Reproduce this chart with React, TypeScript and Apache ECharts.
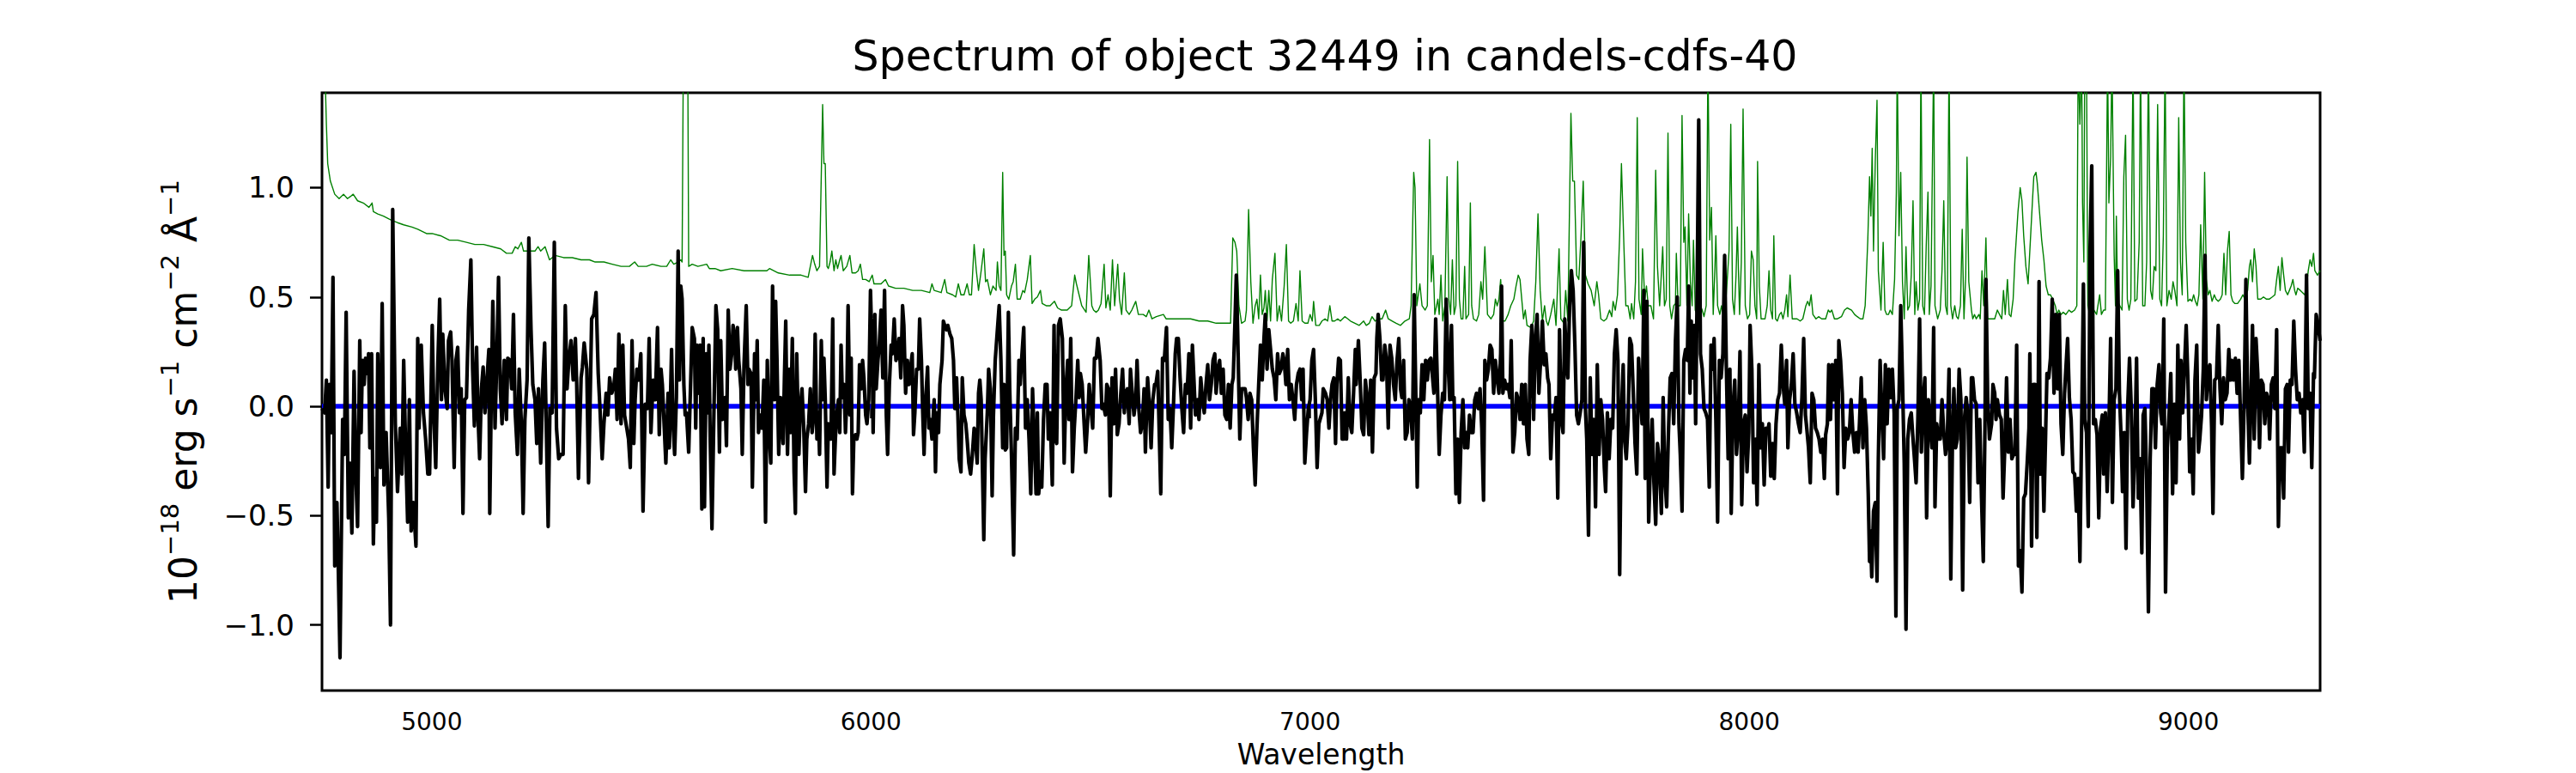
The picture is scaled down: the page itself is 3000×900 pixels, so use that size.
import React, { useEffect, useRef } from "react";
import * as echarts from "echarts";

const titleText = "Spectrum of object 32449 in candels-cdfs-40";
const xAxisLabel = "Wavelength";
const xTicks = [5000, 6000, 7000, 8000, 9000];
const yTicks = [-1.0, -0.5, 0.0, 0.5, 1.0];
const xRange = [4750, 9300];
const yRange = [-1.3, 1.434];

// model (blue) — flat at zero
const modelLine: [number, number][] = [[4750, 0], [9300, 0]];

// observed flux (black)
const fluxSpectrum: [number, number][] = [
[4750,-0.01],[4756,-0.03],[4760,0.12],[4764,-0.37],[4767,0.10],[4771,-0.12],[4775,0.59],[4779,-0.73],[4784,-0.44],[4787,-0.73],[4791,-1.15],[4797,-0.06],[4801,-0.22],[4805,0.43],[4810,-0.51],[4814,-0.26],[4818,-0.58],[4823,0.16],[4827,-0.31],[4831,-0.55],[4836,0.30],[4839,-0.12],[4842,0.21],[4846,0.10],[4849,0.22],[4853,0.15],[4856,0.24],[4859,-0.19],[4863,0.24],[4867,-0.63],[4870,-0.33],[4874,-0.53],[4877,0.24],[4880,-0.22],[4883,-0.28],[4887,0.47],[4891,-0.36],[4896,-0.12],[4902,-0.51],[4906,-1.00],[4911,0.90],[4917,-0.08],[4922,-0.39],[4928,-0.10],[4932,-0.31],[4936,0.21],[4940,-0.15],[4945,-0.53],[4949,0.03],[4953,-0.57],[4958,-0.44],[4964,-0.64],[4968,0.31],[4971,-0.10],[4976,0.28],[4981,-0.03],[4986,-0.15],[4991,-0.31],[4995,-0.31],[5001,0.37],[5005,-0.06],[5009,-0.28],[5014,0.21],[5018,0.49],[5022,0.03],[5025,0.33],[5030,0.08],[5035,-0.01],[5038,0.30],[5043,0.34],[5046,0.21],[5051,-0.28],[5055,0.21],[5059,0.27],[5063,-0.03],[5067,0.08],[5071,-0.49],[5075,0.03],[5079,0.04],[5084,0.44],[5089,0.67],[5093,0.17],[5097,-0.09],[5102,0.27],[5105,-0.03],[5109,-0.24],[5113,0.08],[5117,0.18],[5121,-0.03],[5125,0.10],[5130,0.26],[5132,-0.49],[5136,0.13],[5139,0.48],[5144,-0.10],[5148,0.21],[5152,0.59],[5156,0.08],[5160,-0.08],[5165,0.21],[5170,-0.06],[5173,0.22],[5178,0.21],[5182,0.08],[5186,0.42],[5190,-0.03],[5195,-0.22],[5199,0.17],[5204,-0.08],[5208,-0.49],[5212,-0.06],[5217,0.12],[5221,0.77],[5226,0.35],[5230,0.10],[5235,0.03],[5239,-0.17],[5243,0.08],[5248,-0.26],[5253,0.12],[5257,0.29],[5261,-0.12],[5265,-0.55],[5269,-0.01],[5274,-0.03],[5279,0.75],[5284,-0.10],[5289,-0.24],[5294,-0.22],[5299,-0.22],[5304,0.46],[5308,0.08],[5312,0.21],[5317,0.30],[5322,0.12],[5327,0.31],[5330,0.10],[5334,-0.33],[5340,0.13],[5343,0.18],[5347,0.29],[5353,0.17],[5357,-0.35],[5360,-0.04],[5364,0.40],[5369,0.42],[5374,0.52],[5379,0.15],[5383,-0.01],[5388,-0.24],[5392,-0.08],[5397,0.06],[5401,-0.04],[5405,0.13],[5410,0.06],[5415,0.10],[5418,0.17],[5422,-0.06],[5426,0.33],[5431,-0.08],[5435,0.28],[5439,-0.04],[5444,-0.10],[5448,-0.15],[5452,-0.28],[5456,0.30],[5460,-0.17],[5463,0.03],[5467,0.17],[5471,0.12],[5476,0.24],[5481,-0.48],[5486,0.01],[5491,-0.01],[5495,0.31],[5499,-0.12],[5504,0.12],[5509,0.03],[5514,0.36],
[5518,-0.13],[5522,0.17],[5525,0.10],[5529,-0.08],[5533,-0.26],[5538,0.06],[5541,-0.19],[5546,0.26],[5549,-0.06],[5553,-0.22],[5557,0.04],[5561,0.71],[5564,0.12],[5567,0.55],[5570,0.49],[5574,0.10],[5577,-0.04],[5580,-0.03],[5585,-0.21],[5589,0.08],[5593,0.36],[5598,0.31],[5601,-0.10],[5604,0.28],[5608,0.06],[5611,0.28],[5615,-0.47],[5618,0.31],[5621,-0.46],[5625,0.24],[5628,-0.03],[5631,0.28],[5634,-0.15],[5638,-0.56],[5642,-0.08],[5647,0.46],[5651,0.35],[5655,-0.21],[5658,0.30],[5662,-0.06],[5665,-0.01],[5668,0.04],[5671,-0.18],[5675,0.44],[5679,0.17],[5683,0.24],[5686,0.37],[5690,0.31],[5692,0.17],[5696,0.36],[5699,0.21],[5704,0.08],[5707,-0.22],[5711,0.19],[5716,0.46],[5720,0.10],[5722,0.17],[5727,0.15],[5730,-0.37],[5735,0.24],[5738,0.03],[5741,0.30],[5744,-0.12],[5748,-0.04],[5752,-0.10],[5756,0.12],[5760,-0.53],[5764,0.21],[5768,-0.12],[5772,-0.26],[5776,0.55],[5780,0.03],[5783,0.48],[5786,0.22],[5790,-0.22],[5794,0.04],[5797,-0.06],[5800,-0.17],[5803,0.13],[5806,0.39],[5810,-0.22],[5814,0.17],[5817,-0.12],[5821,0.31],[5825,-0.30],[5828,-0.49],[5831,0.24],[5836,-0.22],[5839,-0.01],[5843,0.08],[5847,-0.10],[5851,-0.39],[5854,-0.15],[5858,-0.08],[5862,0.08],[5866,-0.12],[5870,-0.04],[5873,0.33],[5877,-0.15],[5880,-0.03],[5883,-0.22],[5887,0.30],[5890,0.03],[5893,0.22],[5896,0.03],[5900,-0.37],[5903,-0.08],[5906,-0.15],[5909,-0.15],[5913,0.40],[5916,-0.31],[5919,-0.15],[5922,-0.04],[5926,0.03],[5929,-0.12],[5932,0.28],[5935,0.04],[5939,0.10],[5942,-0.12],[5945,0.03],[5948,0.46],[5952,-0.04],[5955,0.22],[5958,-0.40],[5961,-0.15],[5965,-0.13],[5968,-0.15],[5971,-0.12],[5974,0.19],[5978,0.08],[5981,0.21],[5984,0.13],[5988,-0.04],[5991,-0.08],[5995,0.03],[5999,0.53],[6003,0.22],[6005,-0.12],[6009,0.42],[6012,0.08],[6016,0.21],[6019,0.28],[6023,0.44],[6027,0.13],[6031,0.53],[6035,-0.04],[6038,-0.22],[6042,0.10],[6046,0.28],[6049,0.24],[6053,0.40],[6057,0.21],[6061,0.24],[6064,0.31],[6068,0.13],[6072,0.46],[6075,0.37],[6079,0.06],[6083,0.21],[6087,0.10],[6090,0.17],[6094,0.24],[6097,-0.13],[6100,-0.03],[6104,0.17],[6108,0.17],[6111,0.40],[6115,0.21],[6118,-0.03],[6121,-0.22],[6124,0.01],[6129,0.18],[6132,-0.10],[6135,-0.06],[6139,-0.15],[6144,0.03],[6147,-0.30],[6150,-0.03],[6154,-0.12],[6157,0.10],[6162,0.21],[6165,0.39],[6168,0.37],[6172,0.35],[6175,0.37],[6180,0.33],[6184,0.31],[6188,0.21],[6191,-0.01],[6195,0.13],[6198,-0.04],[6201,-0.24],[6205,-0.30],[6208,0.13],[6212,-0.04],[6216,-0.08],[6219,-0.15],[6223,-0.26],[6227,-0.31],[6231,-0.22],[6235,-0.10],[6238,-0.15],[6242,-0.26],[6245,0.06],[6248,0.12],[6251,0.03],[6257,-0.61],[6260,-0.24],
[6265,-0.03],[6268,0.17],[6272,0.08],[6276,-0.41],[6279,-0.04],[6283,0.21],[6288,0.35],[6292,0.46],[6296,0.21],[6300,-0.19],[6303,0.10],[6306,-0.20],[6309,-0.19],[6313,0.43],[6316,0.08],[6320,-0.22],[6325,-0.68],[6329,-0.10],[6333,-0.15],[6337,0.21],[6340,0.10],[6343,0.21],[6348,0.36],[6352,-0.10],[6356,0.03],[6360,-0.15],[6364,-0.40],[6368,0.08],[6372,-0.15],[6376,-0.40],[6379,-0.03],[6382,-0.40],[6386,-0.30],[6389,-0.37],[6393,-0.06],[6397,0.10],[6401,0.10],[6404,-0.15],[6408,-0.03],[6413,-0.36],[6417,0.37],[6420,-0.15],[6423,-0.17],[6427,0.37],[6431,0.40],[6436,0.31],[6440,-0.26],[6444,0.08],[6448,0.21],[6451,-0.06],[6455,0.31],[6459,-0.30],[6463,-0.10],[6467,0.04],[6471,0.21],[6474,0.04],[6477,0.15],[6481,0.10],[6485,-0.06],[6489,-0.21],[6493,-0.08],[6497,0.10],[6501,-0.01],[6505,-0.10],[6509,0.22],[6513,0.22],[6517,0.31],[6522,0.21],[6526,-0.01],[6529,0.01],[6534,-0.04],[6537,0.10],[6541,0.08],[6545,-0.41],[6549,0.13],[6553,-0.08],[6557,0.17],[6561,-0.13],[6565,-0.08],[6569,0.06],[6573,0.17],[6577,-0.03],[6580,0.06],[6584,0.08],[6588,-0.08],[6591,0.17],[6595,0.06],[6599,-0.04],[6603,0.03],[6606,0.21],[6610,-0.01],[6614,-0.12],[6618,-0.08],[6622,0.08],[6625,-0.21],[6630,0.13],[6634,0.01],[6638,-0.19],[6642,0.03],[6646,0.10],[6649,0.10],[6653,0.16],[6656,-0.08],[6660,-0.40],[6664,0.22],[6668,0.21],[6673,0.36],[6677,-0.06],[6681,-0.01],[6685,-0.19],[6689,0.01],[6693,0.24],[6696,0.31],[6700,0.31],[6704,0.13],[6708,-0.01],[6712,-0.12],[6716,0.10],[6720,0.06],[6724,0.24],[6728,-0.10],[6732,0.28],[6736,0.10],[6739,-0.04],[6743,0.03],[6747,-0.06],[6751,0.13],[6755,0.03],[6759,-0.03],[6763,0.10],[6767,0.19],[6771,0.03],[6775,0.10],[6779,0.21],[6783,0.24],[6786,0.06],[6790,0.17],[6794,0.21],[6798,0.06],[6802,0.17],[6806,-0.04],[6810,-0.06],[6814,0.10],[6818,-0.10],[6822,0.10],[6825,0.13],[6829,0.39],[6832,0.60],[6835,0.35],[6840,-0.15],[6844,0.08],[6848,0.08],[6852,0.08],[6855,0.04],[6859,-0.06],[6863,0.06],[6867,0.03],[6871,-0.19],[6875,-0.36],[6879,-0.10],[6883,0.10],[6887,0.28],[6891,0.12],[6895,0.31],[6898,0.42],[6902,0.17],[6906,0.35],[6910,0.26],[6914,0.17],[6918,0.13],[6922,0.03],[6926,0.24],[6930,0.15],[6934,0.17],[6938,0.24],[6941,0.21],[6945,0.10],[6949,0.26],[6953,0.03],[6957,0.10],[6961,0.03],[6965,-0.06],[6969,0.10],[6973,0.15],[6977,0.17],[6981,0.03],[6984,0.17],[6988,-0.26],[6992,-0.12],[6996,-0.01],[7000,0.03],[7004,0.21],[7008,0.26],[7012,0.03],[7016,-0.28],[7020,-0.08],
[7027,-0.03],[7030,0.08],[7035,0.06],[7039,0.03],[7043,-0.10],[7047,0.04],[7050,0.10],[7054,0.13],[7058,-0.17],[7061,0.10],[7065,0.22],[7069,0.21],[7073,-0.15],[7077,-0.15],[7079,-0.03],[7083,-0.15],[7087,0.13],[7091,-0.08],[7095,-0.12],[7099,0.06],[7103,0.26],[7105,0.10],[7110,0.30],[7114,0.12],[7118,-0.10],[7122,-0.13],[7126,0.12],[7130,0.04],[7134,-0.13],[7138,0.12],[7142,-0.21],[7146,0.13],[7150,0.15],[7152,0.31],[7155,0.42],[7159,0.31],[7163,0.12],[7166,0.12],[7170,0.28],[7174,0.21],[7178,-0.10],[7182,0.28],[7186,0.22],[7190,0.10],[7194,0.03],[7198,0.21],[7202,0.31],[7206,0.08],[7209,0.04],[7213,0.21],[7217,-0.15],[7221,-0.12],[7225,0.03],[7229,-0.01],[7233,-0.15],[7237,0.51],[7241,0.03],[7244,-0.37],[7247,0.03],[7251,-0.03],[7255,0.19],[7259,0.03],[7263,0.21],[7267,0.12],[7271,0.21],[7275,0.22],[7279,0.13],[7282,0.06],[7286,0.40],[7290,0.10],[7294,-0.22],[7298,-0.04],[7302,0.06],[7306,0.03],[7310,0.49],[7314,0.21],[7318,0.03],[7322,0.37],[7325,0.03],[7328,0.04],[7332,-0.40],[7336,-0.15],[7340,-0.44],[7344,-0.12],[7348,0.03],[7352,-0.19],[7355,-0.12],[7359,-0.19],[7363,-0.04],[7367,-0.12],[7371,-0.12],[7375,0.03],[7379,0.06],[7383,-0.01],[7387,0.08],[7391,-0.10],[7395,-0.43],[7398,0.21],[7402,0.12],[7406,0.17],[7410,0.28],[7414,0.26],[7418,0.06],[7422,0.21],[7426,0.13],[7430,0.06],[7434,0.24],[7436,0.55],[7439,0.06],[7443,0.12],[7447,0.08],[7451,0.10],[7455,0.04],[7458,0.30],[7462,-0.21],[7466,-0.12],[7470,0.06],[7474,0.03],[7478,-0.06],[7482,0.10],[7486,-0.08],[7490,0.10],[7494,-0.15],[7498,-0.22],[7501,0.21],[7505,0.37],[7509,-0.06],[7513,0.31],[7517,0.42],[7521,0.06],[7525,0.21],[7529,0.39],[7533,0.19],[7537,0.24],[7541,0.13],[7544,0.10],[7548,-0.24],[7552,-0.04],[7556,-0.06],[7560,0.04],[7564,-0.42],[7568,0.35],[7572,-0.06],[7576,-0.12],[7580,0.40],[7584,0.19],[7587,0.13],[7591,0.46],[7595,0.62],[7599,0.53],[7603,0.28],[7607,-0.04],[7611,-0.08],[7615,-0.03],[7619,0.03],[7623,0.75],[7627,-0.01],[7630,-0.15],[7634,-0.59],[7638,0.13],[7642,-0.22],[7646,-0.06],[7650,-0.46],[7654,0.19],[7658,-0.22],[7662,0.03],[7666,-0.06],[7670,-0.28],[7673,-0.39],[7677,-0.03],[7681,-0.24],[7685,-0.06],[7689,-0.10],[7693,0.24],[7697,0.35],[7701,0.21],[7705,-0.77],[7709,-0.03],[7713,0.19],[7716,-0.15],[7720,-0.24],[7724,-0.08],[7728,0.31],[7732,0.28],[7736,0.06],[7740,-0.17],[7744,-0.31],[7748,0.22],[7752,0.06],[7756,-0.08],[7760,0.53],[7763,-0.33],[7767,0.48],[7771,-0.53],[7775,-0.26],[7779,-0.06],[7783,-0.35],[7787,-0.54],[7791,-0.17],[7795,-0.24],
[7800,-0.49],[7804,0.04],[7808,-0.33],[7812,-0.46],[7816,-0.12],[7820,0.13],[7824,0.15],[7828,-0.08],[7832,0.30],[7836,0.50],[7840,-0.08],[7843,-0.22],[7847,-0.48],[7851,0.21],[7855,0.26],[7859,0.21],[7862,0.55],[7865,0.06],[7868,0.39],[7871,0.13],[7875,0.37],[7878,-0.08],[7881,0.46],[7885,1.31],[7889,0.24],[7893,0.17],[7897,-0.01],[7901,-0.03],[7905,-0.06],[7909,-0.37],[7913,0.28],[7916,0.17],[7920,0.31],[7924,-0.06],[7928,-0.53],[7932,0.21],[7936,0.13],[7940,0.24],[7944,0.69],[7948,0.17],[7952,-0.24],[7956,0.17],[7959,-0.49],[7963,-0.01],[7967,0.12],[7971,-0.22],[7975,-0.10],[7979,0.25],[7983,-0.45],[7987,-0.08],[7991,-0.04],[7995,-0.30],[7999,-0.12],[8002,0.37],[8006,0.17],[8010,-0.35],[8014,-0.15],[8018,-0.45],[8022,0.19],[8026,-0.19],[8030,-0.08],[8034,-0.36],[8038,-0.10],[8042,-0.12],[8045,-0.08],[8049,-0.32],[8053,-0.17],[8057,-0.33],[8061,-0.08],[8065,0.03],[8069,0.06],[8073,0.28],[8077,0.10],[8081,0.01],[8085,0.21],[8088,-0.19],[8092,0.03],[8096,0.10],[8100,0.24],[8104,0.01],[8108,-0.03],[8112,-0.08],[8116,-0.12],[8120,0.04],[8124,0.31],[8128,-0.04],[8131,-0.10],[8135,-0.19],[8139,-0.35],[8143,0.06],[8147,0.03],[8151,-0.10],[8155,-0.12],[8159,-0.15],[8163,-0.21],[8167,-0.15],[8171,-0.33],[8174,-0.13],[8178,-0.08],[8181,0.19],[8185,-0.06],[8189,0.19],[8193,0.03],[8197,0.21],[8201,-0.40],[8204,0.30],[8208,0.21],[8212,0.06],[8216,-0.28],[8220,-0.10],[8224,-0.15],[8228,-0.12],[8232,0.03],[8236,-0.12],[8240,-0.21],[8244,-0.12],[8248,-0.21],[8251,-0.08],[8255,0.13],[8259,-0.19],[8263,0.03],[8267,-0.10],[8271,-0.40],[8274,-0.71],[8276,-0.57],[8279,-0.78],[8283,-0.48],[8287,-0.44],[8291,-0.80],[8294,-0.24],[8298,0.21],[8302,-0.03],[8306,-0.24],[8310,0.19],[8314,-0.08],[8318,0.17],[8322,0.04],[8326,0.17],[8330,-0.03],[8334,-0.96],[8337,-0.01],[8341,0.03],[8345,0.46],[8349,0.12],[8353,-0.26],[8357,-1.02],[8361,-0.15],[8365,-0.06],[8369,-0.03],[8373,-0.15],[8377,-0.26],[8380,-0.35],[8384,-0.06],[8388,0.40],[8392,-0.21],[8396,0.03],[8400,0.13],[8404,-0.51],[8408,0.03],[8412,-0.08],[8416,-0.19],[8420,0.36],[8423,-0.46],[8427,-0.08],[8431,-0.15],[8435,-0.15],[8439,0.03],[8443,-0.12],[8447,-0.22],[8451,-0.15],[8455,0.17],[8459,-0.79],[8463,-0.12],[8466,0.08],[8470,-0.19],[8474,-0.15],[8478,0.17],[8482,0.03],[8486,-0.84],[8490,-0.06],[8494,0.04],[8498,-0.04],[8502,-0.44],[8506,0.13],[8509,0.13],[8513,0.03],[8517,0.01],[8521,-0.35],[8525,-0.06],[8529,-0.42],[8533,-0.71],[8537,-0.06],[8539,0.58],[8543,0.04],[8547,-0.15],
[8552,-0.08],[8555,0.10],[8559,0.06],[8562,-0.06],[8565,0.03],[8570,-0.04],[8574,-0.06],[8578,-0.42],[8582,-0.19],[8586,0.13],[8590,-0.21],[8594,-0.06],[8598,-0.24],[8602,-0.22],[8605,-0.22],[8609,0.28],[8613,-0.73],[8617,-0.66],[8621,-0.85],[8625,-0.42],[8629,-0.40],[8633,-0.26],[8637,-0.10],[8639,0.24],[8643,-0.64],[8647,0.10],[8651,0.10],[8655,-0.60],[8658,0.03],[8660,0.57],[8663,-0.31],[8667,-0.10],[8671,-0.48],[8675,-0.12],[8678,0.15],[8682,0.13],[8686,0.22],[8690,0.49],[8694,0.06],[8698,0.42],[8702,0.08],[8706,0.42],[8710,-0.08],[8714,-0.22],[8718,0.06],[8721,0.17],[8725,0.31],[8729,0.04],[8733,-0.06],[8737,-0.30],[8741,-0.31],[8745,-0.48],[8749,-0.33],[8753,-0.71],[8757,-0.08],[8761,0.56],[8764,-0.06],[8768,-0.12],[8772,-0.55],[8776,0.71],[8780,1.10],[8784,-0.08],[8788,-0.06],[8792,-0.13],[8796,-0.51],[8800,-0.10],[8804,-0.04],[8807,-0.31],[8811,-0.03],[8815,-0.39],[8819,-0.10],[8823,0.31],[8827,-0.44],[8831,0.03],[8835,0.08],[8839,0.62],[8843,0.06],[8847,-0.15],[8850,-0.39],[8854,-0.12],[8858,-0.65],[8862,0.01],[8866,0.22],[8870,-0.01],[8874,-0.46],[8878,-0.21],[8882,0.22],[8886,-0.42],[8890,-0.24],[8894,-0.67],[8897,-0.04],[8901,-0.01],[8905,-0.33],[8909,-0.94],[8913,-0.24],[8917,0.08],[8921,0.08],[8925,-0.19],[8929,0.10],[8933,0.19],[8937,-0.03],[8940,-0.08],[8944,0.40],[8948,-0.85],[8952,-0.19],[8956,-0.04],[8960,0.15],[8964,-0.40],[8968,0.01],[8972,-0.35],[8976,0.28],[8980,-0.15],[8983,0.21],[8987,-0.03],[8991,0.17],[8995,0.37],[8999,0.12],[9003,-0.30],[9007,-0.15],[9011,-0.40],[9015,0.12],[9019,0.28],[9023,-0.21],[9026,-0.15],[9030,-0.04],[9034,0.17],[9038,0.69],[9041,0.03],[9045,0.15],[9049,0.19],[9053,-0.10],[9056,-0.49],[9060,0.12],[9064,0.13],[9068,0.37],[9072,0.08],[9076,-0.08],[9080,0.13],[9084,0.03],[9088,0.06],[9092,0.26],[9096,0.12],[9099,0.21],[9103,0.12],[9107,0.22],[9111,0.06],[9115,0.21],[9119,-0.06],[9123,-0.33],[9127,0.01],[9131,0.58],[9135,0.03],[9139,-0.26],[9142,-0.01],[9146,0.37],[9150,-0.15],[9154,0.31],[9158,0.15],[9162,-0.19],[9166,0.12],[9170,0.10],[9174,-0.08],[9178,0.06],[9182,0.03],[9185,-0.15],[9189,0.10],[9193,0.13],[9197,-0.01],[9201,0.35],[9205,-0.55],[9209,-0.19],[9213,-0.19],[9217,-0.42],[9221,0.08],[9225,0.10],[9228,-0.21],[9232,0.12],[9236,0.10],[9240,0.39],[9244,0.17],[9248,0.03],[9252,0.06],[9256,-0.03],[9260,0.03],[9264,-0.21],[9269,0.60],[9273,-0.01],[9277,0.06],[9281,-0.28],[9285,0.15],[9287,0.13],[9291,0.42],[9294,0.39],[9300,0.30],
];

// noise / sky spectrum (green)
const noiseSpectrum: [number, number][] = [
[4750,1.9],[4756,1.6],[4760,1.29],[4763,1.11],[4769,1.03],[4779,0.97],[4789,0.95],[4799,0.97],[4808,0.95],[4815,0.96],[4821,0.97],[4831,0.94],[4844,0.93],[4857,0.91],[4864,0.93],[4867,0.89],[4877,0.88],[4890,0.87],[4909,0.85],[4922,0.84],[4936,0.83],[4955,0.82],[4968,0.81],[4988,0.79],[5001,0.79],[5020,0.78],[5040,0.76],[5059,0.76],[5079,0.75],[5098,0.74],[5118,0.74],[5138,0.73],[5157,0.72],[5170,0.70],[5183,0.70],[5190,0.73],[5196,0.72],[5204,0.75],[5209,0.71],[5222,0.71],[5235,0.71],[5242,0.73],[5248,0.71],[5258,0.73],[5268,0.67],[5281,0.69],[5300,0.68],[5320,0.68],[5340,0.67],[5359,0.67],[5372,0.66],[5392,0.66],[5411,0.65],[5431,0.64],[5450,0.64],[5462,0.66],[5470,0.64],[5489,0.64],
[5502,0.65],[5522,0.64],[5535,0.64],[5544,0.67],[5551,0.65],[5561,0.66],[5567,0.67],[5570,0.66],[5574,2.0],[5582,2.0],[5585,0.64],[5593,0.65],[5606,0.64],[5626,0.65],[5632,0.63],[5645,0.63],[5658,0.62],[5684,0.63],[5711,0.62],[5737,0.62],[5763,0.62],[5769,0.63],[5789,0.61],[5815,0.60],[5841,0.60],[5857,0.59],[5862,0.64],[5867,0.69],[5872,0.65],[5877,0.62],[5883,0.64],[5890,1.38],[5893,1.11],[5896,1.11],[5900,0.64],[5903,0.63],[5907,0.66],[5911,0.71],[5916,0.62],[5920,0.67],[5924,0.63],[5929,0.67],[5932,0.69],[5937,0.62],[5945,0.64],[5952,0.69],[5957,0.61],[5965,0.61],[5971,0.62],[5976,0.65],[5981,0.58],[5988,0.58],[5996,0.57],[6003,0.60],[6007,0.56],[6023,0.56],[6033,0.58],[6040,0.55],[6056,0.54],[6075,0.54],[6095,0.53],[6115,0.53],[6134,0.52],[6139,0.56],[6144,0.53],[6160,0.52],[6168,0.58],[6173,0.52],[6186,0.51],[6193,0.50],[6199,0.56],[6205,0.51],[6212,0.51],[6219,0.56],[6224,0.51],[6229,0.51],[6235,0.74],[6240,0.62],[6245,0.53],[6251,0.62],[6257,0.72],[6261,0.57],
[6265,0.58],[6272,0.51],[6278,0.55],[6285,0.53],[6288,0.66],[6292,0.55],[6296,0.53],[6300,1.07],[6303,0.69],[6306,0.71],[6309,0.51],[6314,0.49],[6320,0.55],[6324,0.57],[6329,0.65],[6333,0.49],[6340,0.49],[6346,0.53],[6350,0.52],[6356,0.58],[6363,0.69],[6367,0.47],[6373,0.49],[6379,0.50],[6386,0.53],[6390,0.47],[6399,0.46],[6408,0.46],[6418,0.48],[6425,0.45],[6434,0.44],[6447,0.44],[6457,0.46],[6464,0.60],[6468,0.56],[6474,0.51],[6480,0.46],[6490,0.43],[6496,0.69],[6503,0.46],[6507,0.44],[6513,0.43],[6518,0.44],[6524,0.47],[6531,0.65],[6535,0.45],[6540,0.51],[6545,0.44],[6550,0.67],[6555,0.46],[6562,0.65],[6566,0.49],[6571,0.42],[6577,0.61],[6581,0.44],[6588,0.42],[6594,0.44],[6603,0.48],[6609,0.42],[6620,0.42],[6627,0.41],[6633,0.44],[6640,0.40],[6650,0.41],[6666,0.42],[6672,0.40],[6689,0.40],[6708,0.40],[6728,0.40],[6747,0.39],[6767,0.39],[6786,0.38],[6806,0.38],[6819,0.38],[6824,0.77],[6829,0.75],[6833,0.71],[6838,0.46],[6844,0.38],[6852,0.39],[6855,0.44],[6860,0.90],[6865,0.57],[6870,0.38],[6875,0.46],[6879,0.49],[6883,0.40],[6887,0.60],[6891,0.42],[6895,0.45],[6898,0.53],[6902,0.39],[6906,0.53],[6910,0.39],[6914,0.58],[6920,0.70],[6925,0.39],[6930,0.46],[6935,0.39],[6941,0.55],[6946,0.74],[6951,0.39],[6956,0.38],[6962,0.39],[6968,0.47],[6973,0.39],[6977,0.62],[6982,0.39],[6988,0.38],[6995,0.38],[7000,0.42],[7005,0.39],[7008,0.48],[7013,0.37],[7021,0.37],
[7027,0.39],[7034,0.40],[7040,0.39],[7045,0.46],[7050,0.39],[7056,0.39],[7063,0.40],[7069,0.39],[7079,0.41],[7086,0.40],[7092,0.39],[7102,0.38],[7112,0.37],[7122,0.39],[7128,0.37],[7135,0.38],[7141,0.41],[7148,0.39],[7157,0.40],[7164,0.40],[7172,0.44],[7178,0.40],[7187,0.39],[7196,0.38],[7206,0.37],[7216,0.39],[7226,0.40],[7230,0.46],[7236,1.07],[7239,1.00],[7243,0.46],[7250,0.56],[7255,0.46],[7262,0.44],[7267,0.46],[7272,1.22],[7276,0.57],[7280,0.69],[7284,0.42],[7291,0.49],[7294,0.42],[7298,0.60],[7302,0.39],[7307,0.46],[7312,1.05],[7316,0.49],[7320,0.42],[7324,0.67],[7328,0.42],[7332,0.46],[7336,1.12],[7340,0.49],[7344,0.40],[7348,0.40],[7352,0.64],[7355,0.40],[7361,0.42],[7365,0.93],[7368,0.46],[7372,0.40],[7379,0.39],[7384,0.42],[7389,0.57],[7393,0.49],[7398,0.73],[7404,0.42],[7412,0.40],[7418,0.42],[7422,0.49],[7426,0.46],[7430,0.49],[7434,0.58],[7439,0.39],[7444,0.39],[7451,0.42],[7457,0.46],[7464,0.49],[7469,0.55],[7474,0.60],[7478,0.58],[7482,0.49],[7486,0.40],[7490,0.44],[7494,0.37],[7503,0.36],[7509,0.39],[7514,0.57],[7519,0.88],[7524,0.53],[7529,0.39],[7534,0.46],[7538,0.39],[7542,0.37],[7548,0.42],[7555,0.49],[7560,0.37],[7567,0.72],[7571,0.40],[7578,0.38],[7582,0.53],[7587,0.39],[7591,0.94],[7594,1.34],[7598,1.03],[7602,1.03],[7607,0.60],[7612,0.58],[7617,0.78],[7622,1.03],[7627,0.60],[7633,0.56],[7640,0.53],[7647,0.46],[7653,0.57],[7657,0.51],[7662,0.40],[7669,0.39],[7675,0.40],[7682,0.44],[7687,0.41],[7690,0.48],[7695,0.44],[7700,0.51],[7705,0.78],[7709,1.11],[7715,0.71],[7719,0.46],[7724,0.46],[7729,0.40],[7732,0.47],[7737,0.40],[7741,0.57],[7745,1.32],[7749,0.49],[7754,0.42],[7757,0.72],[7762,0.49],[7766,0.55],[7770,0.46],[7776,0.46],[7782,0.40],[7787,1.08],[7791,0.64],[7796,0.46],
[7799,0.57],[7803,0.73],[7807,0.46],[7811,0.49],[7815,1.25],[7819,0.46],[7823,0.40],[7828,0.46],[7832,0.47],[7834,0.70],[7838,0.46],[7843,0.46],[7847,1.33],[7851,0.75],[7854,0.82],[7858,0.46],[7862,0.88],[7866,0.57],[7870,0.46],[7873,0.76],[7877,0.44],[7881,0.42],[7885,0.49],[7889,0.46],[7893,0.44],[7897,0.41],[7902,0.46],[7906,1.60],[7910,0.76],[7914,0.91],[7918,0.42],[7922,0.64],[7924,0.78],[7928,0.46],[7933,0.42],[7937,0.46],[7942,0.40],[7946,0.46],[7950,0.58],[7954,0.71],[7958,1.29],[7962,0.49],[7966,0.42],[7970,0.60],[7973,0.82],[7978,0.42],[7982,0.66],[7986,1.36],[7991,0.46],[7996,0.40],[8001,0.42],[8005,0.71],[8009,0.67],[8013,0.46],[8017,0.40],[8019,1.12],[8023,0.55],[8027,0.40],[8031,0.40],[8036,0.40],[8041,0.46],[8045,0.62],[8049,0.44],[8053,0.40],[8056,0.78],[8060,0.40],[8064,0.39],[8069,0.42],[8073,0.43],[8077,0.40],[8081,0.44],[8085,0.51],[8088,0.41],[8093,0.60],[8098,0.40],[8103,0.40],[8109,0.40],[8116,0.39],[8122,0.40],[8129,0.46],[8133,0.48],[8137,0.46],[8141,0.51],[8145,0.42],[8152,0.40],[8158,0.41],[8165,0.40],[8174,0.40],[8180,0.44],[8184,0.43],[8188,0.44],[8194,0.40],[8201,0.40],[8210,0.41],[8217,0.44],[8223,0.45],[8233,0.44],[8240,0.42],[8246,0.41],[8253,0.40],[8259,0.40],[8264,0.46],[8270,0.76],[8274,1.05],[8277,0.87],[8280,1.18],[8283,0.71],[8287,1.12],[8291,1.40],[8294,0.62],[8300,0.44],[8305,0.75],[8309,0.44],[8313,0.42],[8317,0.42],[8321,0.44],[8326,0.42],[8331,0.58],[8335,0.98],[8337,1.60],[8341,0.78],[8345,1.07],[8349,0.57],[8353,0.40],[8357,0.73],[8361,0.44],[8365,0.46],[8369,0.60],[8373,0.94],[8377,0.42],[8380,0.57],[8384,0.44],[8388,0.49],[8391,1.60],[8395,0.46],[8399,0.42],[8403,0.73],[8407,0.98],[8410,0.42],[8414,0.55],[8420,1.60],[8423,0.46],[8429,0.40],[8435,0.44],[8439,0.62],[8443,0.94],[8447,0.46],[8451,0.42],[8455,1.60],[8459,0.46],[8463,0.40],[8468,0.46],[8472,0.41],[8476,0.40],[8481,0.46],[8485,0.81],[8489,0.40],[8493,0.60],[8496,1.14],[8500,0.57],[8506,0.44],[8509,0.40],[8513,0.42],[8517,0.40],[8523,0.42],[8526,0.40],[8530,0.62],[8534,0.46],[8539,0.77],[8543,0.40],[8549,0.40],
[8552,0.40],[8559,0.40],[8565,0.44],[8570,0.42],[8575,0.40],[8579,0.53],[8583,0.42],[8588,0.58],[8592,0.42],[8596,0.41],[8601,0.49],[8605,0.67],[8612,0.89],[8617,1.00],[8621,0.94],[8625,0.78],[8630,0.64],[8635,0.56],[8640,0.75],[8645,0.94],[8648,1.05],[8653,1.07],[8656,1.02],[8661,0.89],[8666,0.76],[8671,0.67],[8676,0.55],[8681,0.51],[8686,0.51],[8691,0.49],[8697,0.46],[8701,0.42],[8705,0.44],[8710,0.42],[8715,0.43],[8721,0.42],[8728,0.44],[8734,0.43],[8741,0.44],[8746,0.46],[8749,1.60],[8753,1.29],[8757,1.60],[8759,0.93],[8762,0.66],[8764,1.60],[8768,1.60],[8771,0.46],[8775,0.42],[8780,0.44],[8785,0.44],[8791,0.42],[8794,0.46],[8798,0.51],[8802,0.42],[8807,0.44],[8811,0.44],[8816,1.60],[8819,0.93],[8823,1.14],[8826,1.60],[8831,0.69],[8834,0.46],[8836,0.87],[8839,0.48],[8844,0.46],[8849,0.44],[8853,1.05],[8857,1.24],[8861,0.49],[8865,0.44],[8869,0.49],[8874,1.60],[8878,0.48],[8883,0.49],[8888,0.75],[8891,1.60],[8896,0.46],[8901,0.46],[8905,0.66],[8909,1.60],[8914,0.53],[8918,0.49],[8922,0.64],[8926,0.62],[8930,1.38],[8935,0.49],[8939,0.46],[8943,0.78],[8947,1.60],[8951,0.46],[8956,0.53],[8961,0.49],[8965,0.57],[8969,0.53],[8974,0.46],[8978,1.32],[8982,0.66],[8986,0.51],[8990,1.60],[8994,0.75],[8999,0.48],[9004,0.49],[9008,0.48],[9012,0.51],[9016,0.48],[9020,0.46],[9024,0.51],[9028,0.83],[9033,0.49],[9037,1.07],[9041,0.58],[9045,0.51],[9049,0.53],[9054,0.48],[9059,0.51],[9063,0.49],[9068,0.48],[9073,0.49],[9077,0.51],[9081,0.70],[9085,0.51],[9089,0.71],[9093,0.80],[9097,0.51],[9101,0.48],[9106,0.47],[9112,0.47],[9119,0.49],[9124,0.51],[9129,0.49],[9135,0.53],[9139,0.64],[9142,0.67],[9146,0.57],[9150,0.72],[9154,0.64],[9158,0.49],[9165,0.49],[9171,0.50],[9178,0.49],[9184,0.49],[9191,0.50],[9197,0.51],[9201,0.58],[9205,0.64],[9209,0.53],[9213,0.68],[9217,0.60],[9221,0.53],[9226,0.51],[9230,0.53],[9234,0.55],[9238,0.58],[9242,0.53],[9245,0.51],[9249,0.54],[9255,0.53],[9260,0.52],[9265,0.51],[9269,0.55],[9273,0.62],[9277,0.67],[9281,0.64],[9285,0.70],[9288,0.62],[9294,0.60],[9300,0.62],
];

const FONT = "DejaVu Sans";
const MINUS = "\u2212";

export default function App() {
  const ref = useRef<HTMLDivElement>(null);
  useEffect(() => {
    const chart = echarts.init(ref.current as HTMLDivElement, null, { renderer: "svg" });
    chart.setOption({
      animation: false,
      backgroundColor: "#ffffff",
      title: {
        text: titleText,
        left: 1538,
        top: 36,
        textAlign: "center",
        textStyle: { fontFamily: FONT, fontSize: 49, fontWeight: "normal", color: "#000" },
      },
      grid: {
        left: 375,
        right: 298,
        top: 108,
        bottom: 92,
        show: true,
        borderColor: "#000",
        borderWidth: 3,
        backgroundColor: "transparent",
      },
      xAxis: {
        type: "value",
        min: xRange[0],
        max: xRange[1],
        name: xAxisLabel,
        nameLocation: "middle",
        nameGap: 58,
        nameTextStyle: { fontFamily: FONT, fontSize: 33, color: "#000" },
        axisLine: { show: false },
        splitLine: { show: false },
        axisTick: {
          show: true,
          length: 14,
          customValues: xTicks,
          lineStyle: { color: "#000", width: 2.5 },
        },
        axisLabel: {
          customValues: xTicks,
          margin: 22,
          fontFamily: FONT,
          fontSize: 28,
          color: "#000",
          formatter: (v: number) => String(v),
        },
      },
      yAxis: {
        type: "value",
        min: yRange[0],
        max: yRange[1],
        name: "{n|10}{s|" + MINUS + "18}{n| erg s}{s|" + MINUS + "1}{n| cm}{s|" + MINUS + "2}{n| Å}{s|" + MINUS + "1}",
        nameLocation: "middle",
        nameRotate: 90,
        nameGap: 140,
        nameTextStyle: {
          fontFamily: FONT,
          fontSize: 44,
          color: "#000",
          rich: {
            n: { fontFamily: FONT, fontSize: 44, color: "#000", lineHeight: 52, verticalAlign: "bottom" },
            s: { fontFamily: FONT, fontSize: 29, color: "#000", lineHeight: 30, verticalAlign: "top" },
          },
        },
        axisLine: { show: false },
        splitLine: { show: false },
        axisTick: {
          show: true,
          length: 14,
          customValues: yTicks,
          lineStyle: { color: "#000", width: 2.5 },
        },
        axisLabel: {
          customValues: yTicks,
          margin: 32,
          fontFamily: FONT,
          fontSize: 34,
          color: "#000",
          formatter: (v: number) => (v < 0 ? MINUS : "") + Math.abs(v).toFixed(1),
        },
      },
      series: [
        {
          name: "noise",
          type: "line",
          data: noiseSpectrum,
          showSymbol: false,
          symbol: "none",
          clip: true,
          lineStyle: { color: "#008000", width: 1.4, join: "round" },
          z: 2,
        },
        {
          name: "model",
          type: "line",
          data: modelLine,
          showSymbol: false,
          symbol: "none",
          clip: true,
          lineStyle: { color: "#0000ff", width: 5.5 },
          z: 3,
        },
        {
          name: "flux",
          type: "line",
          data: fluxSpectrum,
          showSymbol: false,
          symbol: "none",
          clip: true,
          lineStyle: { color: "#000000", width: 4.2, join: "round" },
          z: 4,
        },
      ],
    });
    return () => chart.dispose();
  }, []);
  return (
    <div
      ref={ref}
      style={{ position: "absolute", left: 0, top: 0, width: 3000, height: 900 }}
    />
  );
}
